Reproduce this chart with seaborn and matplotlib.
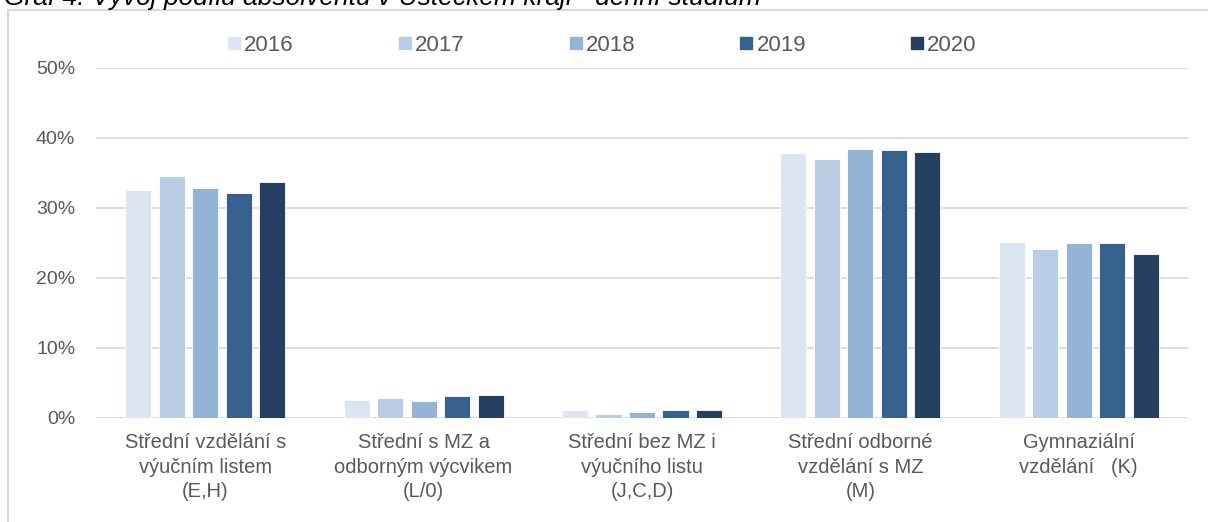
import seaborn as sns
import matplotlib.pyplot as plt
import pandas as pd
from matplotlib.lines import Line2D
from matplotlib.ticker import PercentFormatter

categories = [
    "Střední vzdělání s\nvýučním listem\n(E,H)",
    "Střední s MZ a\nodborným výcvikem\n(L/0)",
    "Střední bez MZ i\nvýučního listu\n(J,C,D)",
    "Střední odborné\nvzdělání s MZ\n(M)",
    "Gymnaziální\nvzdělání   (K)",
]
years = ["2016", "2017", "2018", "2019", "2020"]
share_2016 = [32.6, 2.6, 1.1, 37.8, 25.2]
share_2017 = [34.6, 2.9, 0.6, 37.0, 24.2]
share_2018 = [32.9, 2.4, 0.9, 38.5, 25.0]
share_2019 = [32.2, 3.1, 1.1, 38.3, 25.0]
share_2020 = [33.7, 3.3, 1.1, 38.0, 23.5]
colors = ["#dce6f2", "#b9cde5", "#95b3d7", "#36618f", "#243f60"]

rows = []
for year, vals in zip(years, [share_2016, share_2017, share_2018, share_2019, share_2020]):
    for cat, v in zip(categories, vals):
        rows.append({"kategorie": cat, "rok": year, "podil": v / 100})
df = pd.DataFrame(rows)

sns.set_style("white")
plt.rcParams["font.family"] = ["Liberation Sans", "DejaVu Sans"]

W, H = 1208, 522
fig = plt.figure(figsize=(W / 100, H / 100), dpi=100)
ax = fig.add_axes([96 / W, (H - 418) / H, (1188 - 96) / W, 350 / H])

sns.barplot(data=df, x="kategorie", y="podil", hue="rok", palette=colors,
            saturation=1, width=0.767, gap=0.22, edgecolor="white", linewidth=0.6,
            legend=False, ax=ax)

ax.set_ylim(0, 0.5)
ax.set_yticks([0, 0.1, 0.2, 0.3, 0.4, 0.5])
ax.yaxis.set_major_formatter(PercentFormatter(1.0, decimals=0))
ax.set_xlim(-0.5, 4.5)
ax.grid(axis="y", color="#d9d9d9", linewidth=1.3)
ax.set_axisbelow(True)
for s in ax.spines.values():
    s.set_visible(False)
ax.tick_params(axis="y", length=0, pad=15, labelsize=14, labelcolor="#595959")
ax.tick_params(axis="x", length=0, pad=11, labelsize=14.5, labelcolor="#595959")
for lbl in ax.get_xticklabels():
    lbl.set_linespacing(1.35)
ax.set_xlabel("")
ax.set_ylabel("")

handles = [Line2D([], [], marker="s", linestyle="none", markersize=8,
                  markerfacecolor=c, markeredgecolor=c) for c in colors]
fig.legend(handles, years, loc="center", bbox_to_anchor=(601 / W, 1 - 45 / H),
           ncol=5, frameon=False, fontsize=16, handletextpad=0.05,
           columnspacing=4.6, handlelength=0.8, labelcolor="#595959")

# frame of the chart area and clipped title
fig.add_artist(Line2D([8 / W, 1], [1 - 10 / H, 1 - 10 / H], color="#d9d9d9", linewidth=1.5))
fig.add_artist(Line2D([8 / W, 8 / W], [0, 1 - 10 / H], color="#d9d9d9", linewidth=1.5))
fig.text(4 / W, 1 - 5 / H, "Graf 4: Vývoj podílu absolventů v Ústeckém kraji - denní studium",
         fontsize=19, style="italic", va="baseline", ha="left", color="#000000")

fig.savefig("out.png", dpi=100)
